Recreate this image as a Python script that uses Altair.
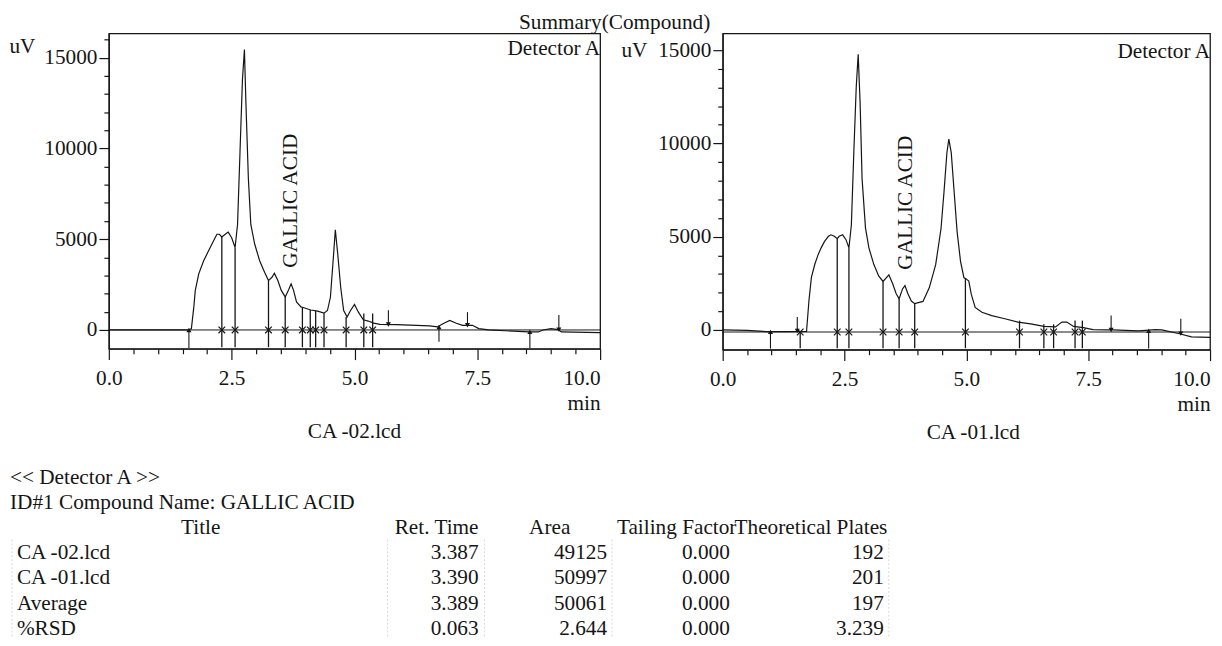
import altair as alt
import pandas as pd

FONT = "Liberation Serif"
FS = 21.5
INK = "#151515"

# ---------------- data ----------------
# CA -02.lcd  (left chromatogram)
left_t = [0.0, 0.8, 1.6, 1.68, 1.73, 1.76, 1.83, 1.93, 2.03, 2.13, 2.2, 2.25, 2.3, 2.37,
          2.43, 2.5, 2.57, 2.62, 2.67, 2.72, 2.76, 2.79, 2.84, 2.89, 2.97, 3.07, 3.17,
          3.25, 3.32, 3.37, 3.44, 3.51, 3.59, 3.66, 3.71, 3.76, 3.82, 3.91, 3.94, 4.11,
          4.25, 4.38, 4.45, 4.51, 4.57, 4.61, 4.66, 4.72, 4.78, 4.85, 4.92, 5.0, 5.08,
          5.18, 5.28, 5.39, 5.52, 5.86, 6.53, 6.69, 6.8, 6.94, 7.06, 7.2, 7.4, 7.53,
          7.73, 8.54, 8.74, 8.84, 9.0, 9.14, 9.21, 10.0]
left_uv = [0, 0, 0, 60, 1270, 2180, 3090, 3810, 4360, 4900, 5270, 5270, 5120, 5270,
           5390, 5080, 4540, 5810, 9800, 13800, 15440, 12530, 8350, 5810, 4720, 3810, 3180,
           2720, 2900, 3120, 2720, 2180, 1820, 2220, 2540, 2180, 1540, 1270, 1250, 1100,
           1035, 925, 1070, 1800, 3980, 5520, 4160, 2340, 1070, 710, 1070, 1400, 980,
           560, 490, 380, 310, 290, 220, 165, 345, 525, 380, 255, 255, 75,
           0, -110, -110, 0, 75, 20, -110, -145]
left_drop_t = [2.30, 2.57, 3.25, 3.59, 3.94, 4.10, 4.21, 4.38, 4.83, 5.19, 5.37]
left_drop_top = [5120, 4540, 2720, 1820, 1250, 1100, 1050, 925, 710, 900, 900]
left_up_t = [1.63, 6.72, 8.57]
left_up_from = [-1000, -650, -1000]
left_up_tip = [0, 160, -100]
left_down_t = [5.69, 7.30, 9.16]
left_down_from = [1090, 980, 820]
left_down_tip = [300, 260, 20]

# CA -01.lcd  (right chromatogram)
right_t = [0.0, 0.5, 0.9, 1.3, 1.72, 1.77, 1.82, 1.89, 1.96, 2.02, 2.09, 2.17, 2.22, 2.29,
           2.35, 2.39, 2.46, 2.53, 2.59, 2.64, 2.69, 2.74, 2.78, 2.82, 2.86, 2.93, 3.0,
           3.1, 3.2, 3.29, 3.35, 3.41, 3.49, 3.56, 3.62, 3.69, 3.74, 3.8, 3.87, 3.94,
           4.11, 4.24, 4.37, 4.48, 4.54, 4.6, 4.64, 4.69, 4.75, 4.81, 4.88, 4.95, 4.99,
           5.05, 5.1, 5.18, 5.32, 5.52, 5.79, 6.06, 6.32, 6.59, 6.83, 6.96, 7.06, 7.2,
           7.4, 7.6, 7.87, 8.0, 8.54, 8.88, 9.01, 9.35, 9.62, 10.0]
right_uv = [0, -20, -90, -90, -80, 1580, 2820, 3520, 4050, 4400, 4750, 5020, 5100, 5020,
            4890, 5020, 5100, 4840, 4400, 5630, 9500, 13020, 14780, 12140, 8100, 5460, 4400,
            3520, 2900, 2600, 2780, 2960, 2460, 1940, 1670, 2200, 2380, 1940, 1550, 1410,
            1530, 2270, 3500, 5440, 7370, 9490, 10230, 9490, 7370, 5260, 3680, 2800, 2750,
            2620, 1920, 1210, 950, 770, 600, 420, 330, 190, 160, 420, 420, 190,
            120, 20, 0, 0, -50, 20, 0, -190, -370, -400]
right_drop_t = [1.59, 2.35, 2.59, 3.29, 3.62, 3.94, 4.98, 6.09, 6.59, 6.79, 7.23, 7.38]
right_drop_top = [-50, 4890, 4400, 2600, 1670, 1410, 2750, 500, 300, 300, 500, 500]
right_up_t = [0.98, 8.74]
right_up_from = [-1000, -1000]
right_up_tip = [-100, -50]
right_down_t = [1.53, 7.97, 9.40]
right_down_from = [700, 770, 600]
right_down_tip = [-50, 0, -200]

# summary table
detector_line = "<< Detector A >>"
compound_line = "ID#1 Compound Name: GALLIC ACID"
table_header = ["Title", "Ret. Time", "Area", "Tailing Factor", "Theoretical Plates"]
row_titles = ["CA -02.lcd", "CA -01.lcd", "Average", "%RSD"]
ret_time = ["3.387", "3.390", "3.389", "0.063"]
area = ["49125", "50997", "50061", "2.644"]
tailing = ["0.000", "0.000", "0.000", "0.000"]
plates = ["192", "201", "197", "3.239"]

# ---------------- layout (not data) ----------------
header_anchor = [(193, "center"), (474, "right"), (546, "center"), (614, "left"), (733, "left")]
body_anchor = [(7, "left"), (474, "right"), (604, "right"), (704, "center"), (884, "right")]
table_vlines = [2, 382, 480, 609, 889]
TW, TH = 900, 173
TABLE_SHIFT = 100  # table text starts left of the aligned view origin


def chromatogram(t, uv, drop_t, drop_top, drop_bottom, up_t, up_from, up_tip,
                 down_t, down_from, down_tip, base_level, label_pos, det_uv,
                 ydom, ytop_tick, width, height, title_x, title_y, caption, cap_dx):
    xs = alt.Scale(domain=[0, 10], nice=False, zero=False)
    ys = alt.Scale(domain=ydom, nice=False, zero=False)
    xaxis = alt.Axis(
        values=[i * 0.5 for i in range(21)],
        labelExpr="datum.value % 2.5 === 0 ? format(datum.value, '.1f') : ''",
        tickSize={"condition": {"test": "datum.value % 2.5 === 0", "value": 11}, "value": 5},
        labelAlign={"condition": {"test": "datum.value === 10", "value": "right"}, "value": "center"},
        labelPadding=8, labelOverlap=False, labelFlush=False, grid=False,
        title="min", titleAlign="right", titleBaseline="middle", titleX=width, titleY=55,
    )
    yaxis = alt.Axis(
        values=list(range(0, ytop_tick + 1, 1000)),
        labelExpr="datum.value % 5000 === 0 ? '' + datum.value : ''",
        tickSize={"condition": {"test": "datum.value % 5000 === 0", "value": 10}, "value": 5},
        labelPadding=2, labelOverlap=False, grid=False,
        title="\u00a0uV", titleAngle=0, titleAlign="left", titleBaseline="middle",
        titleX=title_x, titleY=title_y,
    )
    X = alt.X("t:Q", scale=xs, axis=xaxis)
    Y = alt.Y("uv:Q", scale=ys, axis=yaxis)

    base = alt.Chart(pd.DataFrame({"uv": [base_level]})).mark_rule(
        color=INK, strokeWidth=1).encode(y=Y)
    line = alt.Chart(pd.DataFrame({"t": t, "uv": uv})).mark_line(
        color=INK, strokeWidth=1.2).encode(x=X, y=Y)
    n = len(drop_t)
    drops = alt.Chart(pd.DataFrame({"t": drop_t, "uv": drop_top, "uv2": [drop_bottom] * n})
                      ).mark_rule(color=INK, strokeWidth=1.3).encode(x=X, y=Y, y2="uv2:Q")
    crosses = alt.Chart(pd.DataFrame({"t": drop_t, "uv": [base_level] * n})).mark_point(
        shape="M-1,-1L1,1M-1,1L1,-1", size=45, filled=False, color=INK,
        strokeWidth=1.2, opacity=1).encode(x=X, y=Y)
    ups = alt.Chart(pd.DataFrame({"t": up_t, "uv": up_tip, "uv2": up_from}))
    up_rules = ups.mark_rule(color=INK, strokeWidth=1.1).encode(x=X, y=Y, y2="uv2:Q")
    up_heads = ups.mark_point(shape="triangle-up", size=26, filled=True, color=INK,
                              opacity=1).encode(x=X, y=Y)
    downs = alt.Chart(pd.DataFrame({"t": down_t, "uv": down_tip, "uv2": down_from}))
    down_rules = downs.mark_rule(color=INK, strokeWidth=1.1).encode(x=X, y=Y, y2="uv2:Q")
    down_heads = downs.mark_point(shape="triangle-down", size=26, filled=True, color=INK,
                                  opacity=1).encode(x=X, y=Y)
    gallic = alt.Chart(pd.DataFrame({"t": [label_pos[0]], "uv": [label_pos[1]],
                                     "label": ["GALLIC ACID"]})).mark_text(
        angle=270, align="left", baseline="middle", font=FONT, fontSize=FS,
        color=INK).encode(x=X, y=Y, text="label:N")
    det = alt.Chart(pd.DataFrame({"t": [10], "uv": [det_uv], "label": ["Detector A"]})
                    ).mark_text(align="right", baseline="middle", font=FONT, fontSize=FS,
                                color=INK).encode(x=X, y=Y, text="label:N")
    return alt.layer(base, line, drops, crosses, up_rules, up_heads, down_rules,
                     down_heads, gallic, det).properties(
        width=width, height=height,
        title=alt.TitleParams(caption, orient="bottom", anchor="middle", offset=8, dx=cap_dx),
    )


left = chromatogram(left_t, left_uv, left_drop_t, left_drop_top, -950,
                    left_up_t, left_up_from, left_up_tip,
                    left_down_t, left_down_from, left_down_tip, 0,
                    (3.70, 3430), 15450, [-1034, 16334], 16000, 497, 319, -101, 13,
                    "CA -02.lcd", 0)
right = chromatogram(right_t, right_uv, right_drop_t, right_drop_top, -980,
                     right_up_t, right_up_from, right_up_tip,
                     right_down_t, right_down_from, right_down_tip, -110,
                     (3.77, 3230), 14900, [-1060, 15900], 15000, 493, 320, -103, 17,
                     "CA -01.lcd", 7)

top = alt.hconcat(left, right, spacing=16,
                  title=alt.TitleParams("Summary(Compound)", anchor="middle", dx=4, offset=-6))

# ---------------- table ----------------
cells = [{"xpos": 0, "row": 0, "text": detector_line, "align": "left"},
         {"xpos": 0, "row": 1, "text": compound_line, "align": "left"}]
for (x, a), h in zip(header_anchor, table_header):
    cells.append({"xpos": x, "row": 2, "text": h, "align": a})
for (x, a), col in zip(body_anchor, [row_titles, ret_time, area, tailing, plates]):
    for ri, v in enumerate(col):
        cells.append({"xpos": x, "row": 3 + ri, "text": v, "align": a})
cells_df = pd.DataFrame(cells)

TX = alt.X("xpos:Q", scale=alt.Scale(domain=[0, TW], range=[-TABLE_SHIFT, TW - TABLE_SHIFT],
                                     nice=False, zero=False), axis=None)
TY = alt.Y("row:Q", scale=alt.Scale(domain=[-0.5, 6.3], nice=False, zero=False, reverse=True),
           axis=None)
text_layers = [
    alt.Chart(cells_df[cells_df["align"] == a]).mark_text(
        align=a, baseline="middle", font=FONT, fontSize=FS, color=INK
    ).encode(x=TX, y=TY, text="text:N")
    for a in ["left", "center", "right"]
]
vlines = alt.Chart(pd.DataFrame({"xpos": table_vlines, "row": [2.45] * len(table_vlines),
                                 "row2": [6.3] * len(table_vlines)})).mark_rule(
    color="#8a8a8a", strokeWidth=1, strokeDash=[2, 2], opacity=0.35
).encode(x=TX, y=TY, y2="row2:Q")
table = alt.layer(vlines, *text_layers).properties(
    width=TW - TABLE_SHIFT, height=TH, view=alt.ViewBackground(strokeOpacity=0))

chart = alt.vconcat(top, table, spacing=21).properties(
    padding={"left": 0, "top": 0, "right": 0, "bottom": 0},
    background="white",
).configure_view(
    stroke=INK, strokeWidth=1.3
).configure_axis(
    labelFont=FONT, labelFontSize=FS, labelColor=INK,
    titleFont=FONT, titleFontSize=FS, titleFontWeight="normal", titleColor=INK,
    tickColor=INK, tickWidth=1.2, domainColor=INK, domainWidth=1.2,
).configure_title(
    font=FONT, fontSize=FS, fontWeight="normal", color=INK,
)

chart.save("out.html", embed_options={"renderer": "svg", "actions": False})
